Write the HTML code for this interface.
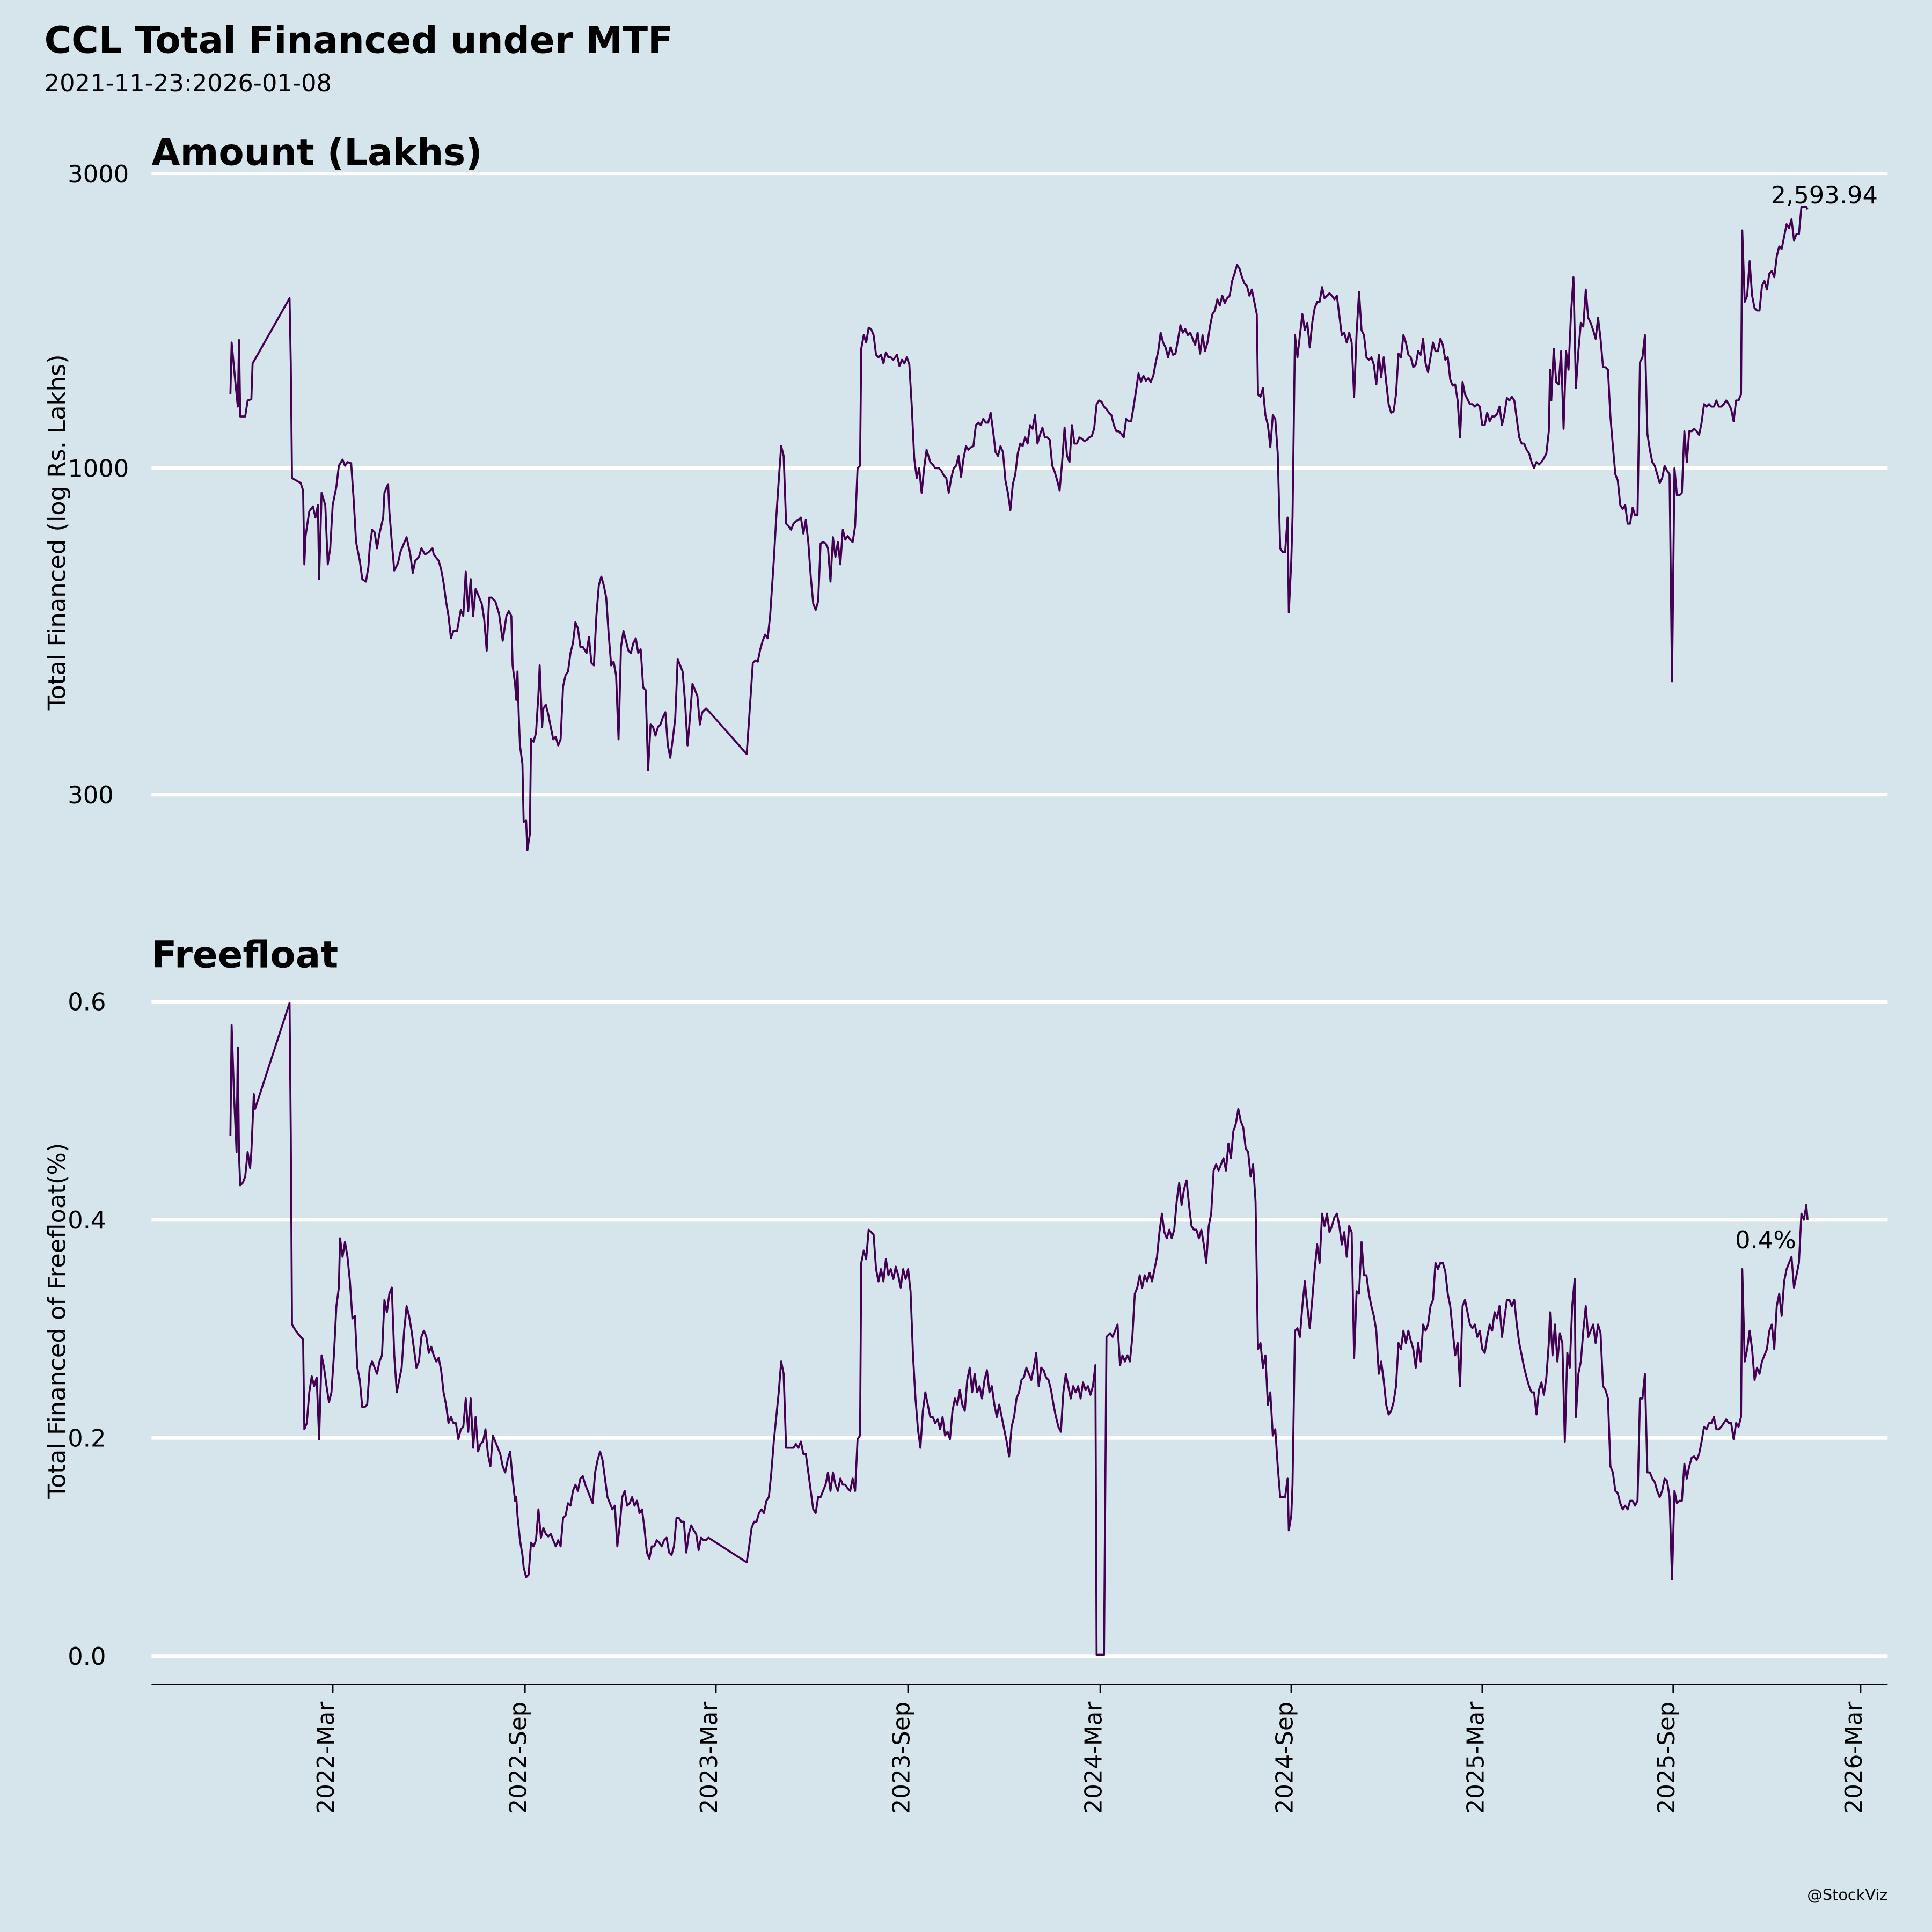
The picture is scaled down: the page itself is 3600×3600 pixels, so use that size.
<!DOCTYPE html>
<html><head><meta charset="utf-8"><style>
html,body{margin:0;padding:0;background:#d6e4eb;}
svg{display:block;}
text{font-family:"DejaVu Sans","Liberation Sans",sans-serif;fill:#000;}
</style></head><body>
<svg width="3600" height="3600" viewBox="0 0 1568 1568" xmlns="http://www.w3.org/2000/svg">
<rect width="1568" height="1568" fill="#d6e4eb"/>
<text x="36" y="43" font-size="30" font-weight="bold">CCL Total Financed under MTF</text>
<text x="36" y="74" font-size="19.5">2021-11-23:2026-01-08</text>
<text x="123" y="134" font-size="30" font-weight="bold">Amount (Lakhs)</text>
<text x="123" y="785" font-size="30" font-weight="bold">Freefloat</text>
<g stroke="#fff" stroke-width="3">
<line x1="123" y1="141" x2="1532" y2="141"/><line x1="123" y1="380" x2="1532" y2="380"/><line x1="123" y1="645" x2="1532" y2="645"/>
<line x1="123" y1="813" x2="1532" y2="813"/><line x1="123" y1="990" x2="1532" y2="990"/><line x1="123" y1="1167" x2="1532" y2="1167"/><line x1="123" y1="1344" x2="1532" y2="1344"/>
</g>
<g font-size="19.5">
<text x="55" y="148">3000</text><text x="55" y="387">1000</text><text x="55" y="652">300</text>
<text x="55" y="820">0.6</text><text x="55" y="997">0.4</text><text x="55" y="1174">0.2</text><text x="55" y="1351">0.0</text>
</g>
<text transform="translate(53,432) rotate(-90)" font-size="19.5" text-anchor="middle">Total Financed (log Rs. Lakhs)</text>
<text transform="translate(53,1072) rotate(-90)" font-size="19.5" text-anchor="middle">Total Financed of Freefloat(%)</text>
<line x1="123" y1="1367" x2="1532" y2="1367" stroke="#000" stroke-width="1.3"/>
<g stroke="#000" stroke-width="1.3">
<line x1="270" y1="1367" x2="270" y2="1374"/><line x1="426" y1="1367" x2="426" y2="1374"/><line x1="581" y1="1367" x2="581" y2="1374"/><line x1="737" y1="1367" x2="737" y2="1374"/><line x1="893" y1="1367" x2="893" y2="1374"/><line x1="1048" y1="1367" x2="1048" y2="1374"/><line x1="1203" y1="1367" x2="1203" y2="1374"/><line x1="1358" y1="1367" x2="1358" y2="1374"/><line x1="1510" y1="1367" x2="1510" y2="1374"/>
</g>
<g font-size="19" text-anchor="end">
<text transform="translate(271,1381) rotate(-90)">2022-Mar</text>
<text transform="translate(427,1381) rotate(-90)">2022-Sep</text>
<text transform="translate(582,1381) rotate(-90)">2023-Mar</text>
<text transform="translate(738,1381) rotate(-90)">2023-Sep</text>
<text transform="translate(894,1381) rotate(-90)">2024-Mar</text>
<text transform="translate(1049,1381) rotate(-90)">2024-Sep</text>
<text transform="translate(1204,1381) rotate(-90)">2025-Mar</text>
<text transform="translate(1359,1381) rotate(-90)">2025-Sep</text>
<text transform="translate(1511,1381) rotate(-90)">2026-Mar</text>
</g>
<text x="1532" y="1542" font-size="12.5" text-anchor="end">@StockViz</text>
<text x="1524" y="165" font-size="19.5" text-anchor="end">2,593.94</text>
<text x="1433" y="1013" font-size="19.5" text-anchor="middle">0.4%</text>
<polyline fill="none" stroke="#440154" stroke-width="1.6" stroke-linejoin="round" points="187,320 188,278 191,310 193,330 194,276 195,338 199,338 201,325 204,324 205,295 235,242 236,295 237,388 244,392 246,398 247,458 248,435 251,415 254,411 256,420 258,410 259,470 261,400 264,410 266,458 268,445 270,410 273,395 275,378 278,373 280,378 282,375 285,376 287,405 289,440 292,455 294,470 297,472 299,460 300,445 302,430 304,432 306,445 308,433 311,420 312,400 314,395 315,393 316,415 318,440 320,463 323,457 325,448 327,443 330,436 333,450 335,465 337,455 340,452 342,445 345,450 348,448 351,445 352,450 356,455 358,462 360,473 362,488 364,500 366,518 368,512 371,512 372,506 374,495 376,500 378,464 380,496 382,470 384,500 386,478 389,485 391,490 393,503 395,528 397,485 399,485 402,488 405,498 408,520 411,500 413,496 415,500 416,540 418,555 419,568 420,545 421,580 422,605 424,620 425,667 427,666 428,690 430,677 431,600 433,602 435,595 437,563 438,540 440,590 441,575 443,572 445,580 447,590 449,600 451,598 453,605 455,600 457,557 459,548 461,545 463,530 465,522 467,505 469,510 471,525 473,525 476,530 478,517 480,538 482,540 484,500 486,475 488,468 490,475 492,485 494,515 496,540 498,537 500,548 502,600 504,525 506,512 508,520 510,528 512,530 514,522 516,518 518,530 520,527 522,558 524,560 526,625 528,588 530,590 532,597 534,590 536,588 538,582 540,578 542,605 544,615 546,600 548,583 550,535 552,540 554,545 556,570 558,605 560,582 562,555 564,560 566,565 568,588 570,578 573,575 576,578 606,612 608,583 611,538 613,536 615,537 617,527 619,520 621,515 623,518 625,500 628,455 630,420 632,390 634,362 636,370 638,425 640,427 642,430 644,425 646,423 648,422 650,420 652,433 654,422 656,440 658,468 660,490 662,495 664,488 666,441 668,440 670,441 672,445 674,472 676,436 678,452 680,440 682,458 684,430 686,438 688,435 690,438 692,440 694,427 696,380 698,378 699,283 701,272 703,278 705,266 707,267 709,272 711,288 713,290 715,288 717,295 719,286 721,290 723,290 725,292 728,288 730,297 732,292 734,295 736,290 738,296 740,330 742,372 744,388 746,380 748,400 750,380 752,365 755,375 757,377 759,380 762,380 764,382 766,386 768,388 770,400 772,388 774,380 776,378 778,370 780,387 782,372 784,362 786,365 788,363 790,362 792,345 794,343 796,345 798,340 800,343 802,343 804,335 806,350 808,367 810,370 812,362 814,367 816,390 818,400 820,414 822,393 824,385 826,368 828,360 830,362 832,355 834,360 836,345 838,348 840,337 842,360 844,353 846,347 848,355 850,355 852,357 854,378 856,383 858,390 860,398 862,375 864,347 866,370 868,375 870,345 872,360 874,360 876,355 878,356 880,358 882,357 884,355 886,354 888,348 890,328 892,325 894,326 896,330 898,332 900,335 902,337 904,345 906,350 908,350 910,352 912,355 914,340 916,342 918,342 920,330 922,317 924,303 926,310 928,305 930,309 932,307 934,310 936,305 938,294 940,285 942,270 944,278 946,282 948,290 950,282 952,288 954,287 956,276 958,264 960,270 962,267 964,272 966,270 968,275 970,280 972,270 974,287 976,272 978,285 980,278 982,265 984,255 986,252 988,243 990,248 992,240 994,246 996,242 998,240 1000,228 1002,222 1004,215 1006,218 1008,225 1010,230 1012,232 1014,240 1016,235 1018,245 1020,255 1021,320 1023,322 1025,315 1027,337 1029,345 1031,363 1033,337 1035,340 1037,368 1039,445 1041,448 1043,448 1045,420 1046,497 1048,455 1049,420 1051,272 1053,290 1055,272 1057,255 1059,268 1061,262 1063,282 1065,262 1067,250 1069,245 1071,245 1073,233 1075,242 1077,240 1079,238 1081,240 1083,243 1085,240 1087,256 1089,272 1091,270 1093,278 1095,270 1097,278 1099,322 1101,270 1103,237 1105,268 1107,272 1109,290 1111,292 1113,290 1115,296 1117,312 1119,288 1121,306 1123,290 1125,310 1127,328 1129,335 1131,334 1133,320 1135,287 1137,290 1139,272 1141,278 1143,288 1145,290 1147,298 1149,296 1151,285 1153,288 1155,275 1157,295 1159,302 1161,290 1163,278 1165,285 1167,285 1169,275 1171,280 1173,292 1175,290 1177,308 1179,313 1181,312 1183,325 1185,355 1187,310 1189,320 1191,324 1193,328 1195,328 1197,330 1199,328 1201,330 1203,345 1205,345 1207,335 1209,342 1211,338 1213,338 1215,336 1217,330 1219,345 1221,336 1223,323 1225,325 1227,322 1229,325 1231,340 1233,355 1235,360 1237,360 1239,365 1241,368 1243,375 1245,380 1247,375 1249,377 1251,375 1253,372 1255,368 1257,350 1258,300 1259,325 1261,283 1263,310 1265,312 1267,285 1269,348 1271,285 1273,300 1275,255 1277,225 1279,315 1281,285 1283,262 1285,265 1287,235 1289,258 1291,262 1293,268 1295,275 1297,258 1299,275 1301,298 1303,298 1305,300 1307,338 1309,362 1311,385 1313,390 1315,410 1317,413 1319,410 1321,425 1323,425 1325,412 1327,418 1329,418 1331,294 1333,290 1335,272 1337,352 1339,365 1341,375 1343,378 1345,385 1347,392 1349,388 1351,378 1353,382 1355,385 1357,553 1359,380 1361,402 1363,402 1365,400 1367,350 1369,375 1371,350 1373,350 1375,348 1377,350 1379,353 1381,343 1383,328 1385,330 1387,328 1389,330 1391,330 1393,325 1395,330 1397,330 1399,328 1401,325 1403,328 1405,332 1407,342 1409,325 1411,325 1413,320 1414,187 1416,245 1418,240 1420,212 1422,240 1424,250 1426,252 1428,252 1430,232 1432,228 1434,235 1436,222 1438,220 1440,225 1442,208 1444,200 1446,202 1448,192 1450,182 1452,185 1454,178 1456,195 1458,190 1460,190 1462,168 1464,168 1466,168 1467,170"/>
<polyline fill="none" stroke="#440154" stroke-width="1.6" stroke-linejoin="round" points="187,922 188,832 190,890 192,935 193,850 194,938 195,962 197,960 199,955 201,935 203,948 204,935 206,888 207,900 235,814 236,920 237,1075 240,1080 244,1085 246,1087 247,1160 249,1155 251,1130 253,1117 255,1125 257,1118 259,1168 261,1100 263,1110 265,1125 267,1138 269,1130 271,1100 273,1060 275,1045 276,1005 278,1020 280,1008 282,1020 284,1040 286,1070 288,1068 290,1110 292,1120 294,1142 296,1142 298,1140 300,1110 302,1105 304,1110 306,1115 308,1105 310,1100 312,1055 314,1065 316,1050 318,1045 320,1100 322,1130 324,1120 326,1110 328,1080 330,1060 332,1068 334,1080 336,1095 338,1110 340,1105 342,1085 344,1080 346,1085 348,1098 350,1093 352,1100 354,1105 356,1102 358,1112 360,1130 362,1140 364,1155 366,1150 368,1155 370,1155 372,1168 374,1160 376,1158 378,1135 380,1162 382,1135 384,1175 386,1150 388,1178 390,1172 392,1170 394,1160 396,1180 398,1190 400,1165 402,1170 404,1175 406,1180 408,1190 410,1195 412,1185 414,1178 416,1200 418,1218 419,1215 420,1230 422,1250 424,1262 425,1272 427,1280 429,1278 431,1252 433,1255 435,1250 437,1225 439,1248 441,1240 443,1245 445,1247 447,1245 449,1250 451,1255 453,1250 455,1255 457,1232 459,1230 461,1220 463,1222 465,1210 467,1205 469,1210 471,1200 473,1198 475,1205 477,1210 479,1215 481,1220 483,1195 485,1185 487,1178 489,1185 491,1200 493,1215 495,1220 497,1225 499,1222 501,1255 503,1238 505,1215 507,1210 509,1222 511,1220 513,1215 515,1222 517,1218 519,1228 521,1225 523,1240 525,1260 527,1265 529,1255 531,1255 533,1250 535,1252 537,1255 539,1250 541,1248 543,1260 545,1262 547,1255 549,1232 551,1232 553,1235 555,1235 557,1260 559,1245 561,1238 563,1242 565,1245 567,1258 569,1248 571,1250 573,1250 575,1248 606,1268 608,1255 610,1240 612,1235 614,1235 616,1228 618,1225 620,1228 622,1218 624,1215 626,1195 628,1170 630,1150 632,1130 634,1105 636,1115 638,1175 640,1175 642,1175 644,1175 646,1172 648,1175 650,1170 652,1180 654,1180 656,1195 658,1210 660,1225 662,1228 664,1215 666,1215 668,1210 670,1205 672,1195 674,1210 676,1195 678,1205 680,1210 682,1200 684,1205 686,1205 688,1208 690,1210 692,1200 694,1210 696,1168 698,1165 699,1025 701,1015 703,1022 705,998 707,1000 709,1002 711,1030 713,1040 715,1030 717,1040 719,1022 721,1035 723,1030 725,1038 727,1028 729,1035 731,1045 733,1030 735,1038 737,1030 739,1048 741,1100 743,1135 745,1160 747,1175 749,1145 751,1130 753,1140 755,1150 757,1150 759,1155 761,1152 763,1160 765,1150 767,1165 769,1162 771,1168 773,1145 775,1135 777,1140 779,1128 781,1140 783,1145 785,1120 787,1110 789,1130 791,1115 793,1130 795,1125 797,1135 799,1120 801,1112 803,1130 805,1125 807,1140 809,1150 811,1140 813,1150 815,1160 817,1170 819,1182 821,1158 823,1150 825,1135 827,1130 829,1120 831,1118 833,1110 835,1115 837,1120 839,1110 841,1098 843,1125 845,1110 847,1112 849,1118 851,1120 853,1128 855,1140 857,1150 859,1158 861,1162 863,1130 865,1115 867,1125 869,1135 871,1125 873,1130 875,1125 877,1135 879,1122 881,1128 883,1125 885,1132 887,1125 889,1108 890,1343 896,1343 898,1085 901,1082 903,1085 905,1080 907,1075 909,1108 911,1100 913,1105 915,1100 917,1105 919,1085 921,1050 923,1045 925,1035 927,1045 929,1035 931,1040 933,1033 935,1040 937,1030 939,1020 941,1000 943,985 945,1000 947,1005 949,998 951,1005 953,998 955,975 957,960 959,978 961,965 963,958 965,978 967,995 969,998 971,998 973,1005 975,998 977,1010 979,1025 981,995 983,985 985,950 987,945 989,950 991,945 993,940 995,950 997,928 999,940 1001,918 1003,912 1005,900 1007,910 1009,915 1011,932 1013,935 1015,955 1017,945 1019,975 1021,1095 1023,1090 1025,1110 1027,1100 1029,1140 1031,1130 1033,1165 1035,1160 1037,1190 1039,1215 1041,1215 1043,1215 1045,1200 1046,1242 1048,1230 1049,1205 1051,1080 1053,1078 1055,1085 1057,1060 1059,1040 1061,1060 1063,1078 1065,1055 1067,1030 1069,1010 1071,1025 1073,985 1075,995 1077,985 1079,1000 1081,995 1083,988 1085,985 1087,995 1089,1010 1091,1000 1093,1020 1095,995 1097,1000 1099,1102 1101,1048 1103,1050 1105,1008 1107,1035 1109,1035 1111,1050 1113,1060 1115,1068 1117,1080 1119,1115 1121,1105 1123,1120 1125,1140 1127,1148 1129,1145 1131,1138 1133,1125 1135,1090 1137,1095 1139,1080 1141,1090 1143,1080 1145,1088 1147,1095 1149,1110 1151,1090 1153,1105 1155,1075 1157,1080 1159,1075 1161,1060 1163,1055 1165,1025 1167,1030 1169,1025 1171,1025 1173,1032 1175,1050 1177,1060 1179,1080 1181,1100 1183,1090 1185,1125 1187,1060 1189,1055 1191,1065 1193,1075 1195,1078 1197,1075 1199,1085 1201,1080 1203,1095 1205,1098 1207,1085 1209,1075 1211,1080 1213,1065 1215,1070 1217,1060 1219,1085 1221,1070 1223,1055 1225,1055 1227,1060 1229,1055 1231,1075 1233,1090 1235,1100 1237,1110 1239,1118 1241,1125 1243,1130 1245,1130 1247,1148 1249,1128 1251,1122 1253,1132 1255,1118 1257,1090 1258,1065 1260,1100 1262,1075 1264,1105 1266,1082 1268,1090 1270,1170 1272,1098 1274,1110 1276,1060 1278,1038 1279,1150 1281,1115 1283,1105 1285,1080 1287,1060 1289,1085 1291,1080 1293,1075 1295,1090 1297,1075 1299,1082 1301,1125 1303,1128 1305,1135 1307,1190 1309,1195 1311,1210 1313,1212 1315,1220 1317,1225 1319,1222 1321,1225 1323,1218 1325,1218 1327,1222 1329,1218 1331,1135 1333,1135 1335,1115 1337,1195 1339,1195 1341,1200 1343,1203 1345,1210 1347,1215 1349,1210 1351,1200 1353,1202 1355,1215 1357,1282 1359,1210 1361,1220 1363,1218 1365,1218 1367,1188 1369,1200 1371,1190 1373,1183 1375,1182 1377,1185 1379,1180 1381,1170 1383,1158 1385,1160 1387,1155 1389,1155 1391,1150 1393,1160 1395,1160 1397,1158 1399,1155 1401,1152 1403,1155 1405,1155 1407,1168 1409,1155 1411,1158 1413,1150 1414,1030 1416,1105 1418,1095 1420,1080 1422,1095 1424,1120 1426,1110 1428,1115 1430,1105 1432,1100 1434,1095 1436,1080 1438,1075 1440,1095 1442,1060 1444,1050 1446,1068 1448,1040 1450,1030 1452,1025 1454,1020 1456,1045 1458,1035 1460,1025 1462,985 1464,990 1466,978 1467,990"/>
</svg>
</body></html>
